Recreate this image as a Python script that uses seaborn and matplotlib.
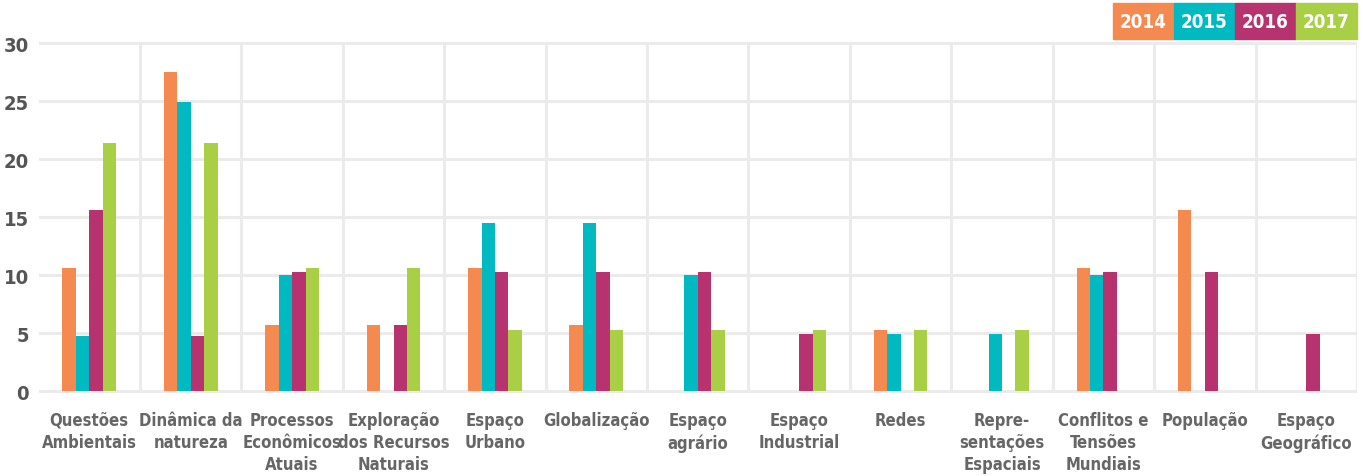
import matplotlib
matplotlib.use("Agg")
import matplotlib.pyplot as plt
import matplotlib.font_manager as fm
from matplotlib.patches import Rectangle
from matplotlib.ticker import FixedLocator
import pandas as pd
import seaborn as sns

categories = [
    "Questões\nAmbientais", "Dinâmica da\nnatureza", "Processos\nEconômicos\nAtuais",
    "Exploração\ndos Recursos\nNaturais", "Espaço\nUrbano", "Globalização",
    "Espaço\nagrário", "Espaço\nIndustrial", "Redes", "Repre-\nsentações\nEspaciais",
    "Conflitos e\nTensões\nMundiais", "População", "Espaço\nGeográfico",
]
years = ["2014", "2015", "2016", "2017"]
v2014 = [10.6, 27.5, 5.7, 5.7, 10.6, 5.7, 0, 0, 5.3, 0, 10.6, 15.6, 0]
v2015 = [4.8, 24.9, 10.0, 0, 14.5, 14.5, 10.0, 0, 4.9, 4.9, 10.0, 0, 0]
v2016 = [15.6, 4.8, 10.3, 5.7, 10.3, 10.3, 10.3, 4.9, 0, 0, 10.3, 10.3, 4.9]
v2017 = [21.4, 21.4, 10.6, 10.6, 5.3, 5.3, 5.3, 5.3, 5.3, 5.3, 0, 0, 0]
colors = ["#F58A51", "#00B9C1", "#B73370", "#A9D044"]

df = pd.DataFrame({"categoria": categories * 4,
                   "ano": sum([[y] * len(categories) for y in years], []),
                   "valor": v2014 + v2015 + v2016 + v2017})

# the original uses a condensed bold face; pick one if the system has it
narrow = [f for f in fm.fontManager.ttflist
          if f.stretch in ("condensed", "semi-condensed", "extra-condensed")
          or "Narrow" in f.name or "Condensed" in f.name]
if narrow:
    font_name, font_stretch = narrow[0].name, "condensed"
else:
    font_name, font_stretch = "Roboto", "normal"

sns.set_theme(style="white")
plt.rcParams["font.family"] = [font_name, "DejaVu Sans"]
plt.rcParams["font.stretch"] = font_stretch

fig = plt.figure(figsize=(13.63, 4.77), dpi=100)
ax = fig.add_axes([0.0283, 0.1746, 0.9673, 0.7354])

sns.barplot(data=df, x="categoria", y="valor", hue="ano", palette=colors,
            width=0.53, gap=0, saturation=1, linewidth=0, legend=False,
            ax=ax, zorder=3)

grid_col = "#ebebeb"
ax.set_ylim(-0.12, 30.12)
ax.set_xlim(-0.5, len(categories) - 0.5)
ax.set_yticks(range(0, 31, 5))
ax.xaxis.set_minor_locator(FixedLocator([i + 0.5 for i in range(len(categories))]))
ax.grid(axis="y", which="major", color=grid_col, linewidth=2.2, zorder=0)
ax.grid(axis="x", which="minor", color=grid_col, linewidth=2.2, zorder=0)
ax.grid(axis="x", which="major", visible=False)
for s in ax.spines.values():
    s.set_visible(False)
ax.set_xlabel("")
ax.set_ylabel("")
ax.tick_params(axis="x", which="both", length=0, pad=13)
ax.tick_params(axis="y", length=0, pad=7)
for lab in ax.get_xticklabels():
    lab.set_fontsize(12)
    lab.set_fontweight("bold")
    lab.set_color("#666666")
    lab.set_linespacing(1.3)
for lab in ax.get_yticklabels():
    lab.set_fontsize(14.5)
    lab.set_fontweight("bold")
    lab.set_color("#555555")

# legend boxes in the top right corner
box_w = 61 / 1363
box_h = 36 / 477
x0 = 1357 / 1363 - box_w * len(years)
y0 = 1 - 40 / 477
for i, (yr, c) in enumerate(zip(years, colors)):
    fig.patches.append(Rectangle((x0 + i * box_w, y0), box_w, box_h,
                                 transform=fig.transFigure, color=c, zorder=5))
    fig.text(x0 + (i + 0.5) * box_w, y0 + box_h / 2, yr, ha="center", va="center",
             color="white", fontsize=13.5, fontweight="bold", zorder=6)

fig.savefig("out.png", dpi=100, facecolor="white")
